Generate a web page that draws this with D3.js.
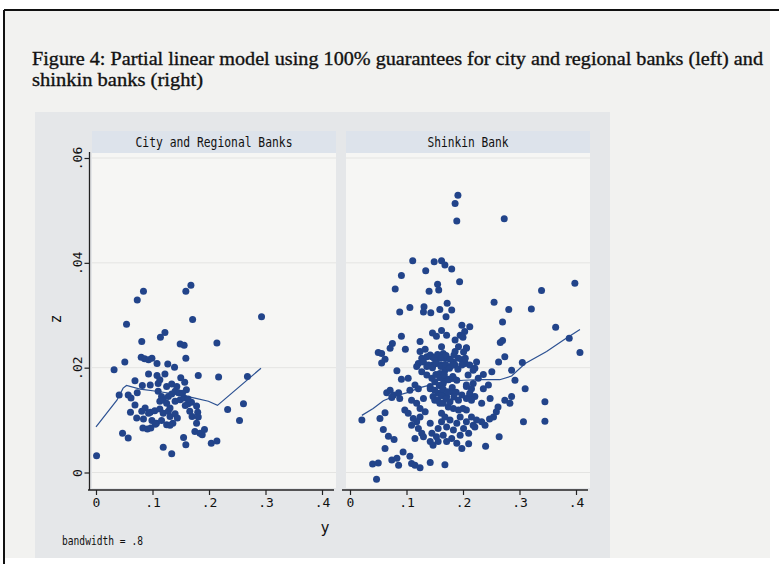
<!DOCTYPE html>
<html>
<head>
<meta charset="utf-8">
<script src="https://cdn.jsdelivr.net/npm/d3@7"></script>
<style>
  body { margin: 0; background: #ffffff; }
  svg { display: block; }
</style>
</head>
<body>
<svg id="chart"></svg>
<script>
// ---- data ----
const titleLines = [
  "Figure 4: Partial linear model using 100% guarantees for city and regional banks (left) and",
  "shinkin banks (right)"
];
const panelTitles = ["City and Regional Banks", "Shinkin Bank"];
const xTicks = [0, 0.1, 0.2, 0.3, 0.4];
const yTicks = [0, 0.02, 0.04, 0.06];

// [y, z] pairs, city and regional banks
const cityPoints = [
  [0.084,0.0346],[0.073,0.0329],[0.168,0.0357],[0.159,0.0346],
  [0.054,0.0283],[0.171,0.0292],[0.293,0.0297],[0.122,0.0267],[0.114,0.0258],
  [0.081,0.0250],[0.149,0.0245],[0.156,0.0243],[0.214,0.0247],
  [0.080,0.0220],[0.086,0.0217],[0.093,0.0215],[0.099,0.0218],[0.159,0.0218],
  [0.051,0.0211],[0.108,0.0208],[0.127,0.0207],[0.139,0.0201],[0.032,0.0196],
  [0.093,0.0188],[0.108,0.0185],[0.122,0.0188],[0.181,0.0185],[0.217,0.0182],[0.268,0.0183],
  [0.069,0.0175],[0.082,0.0166],[0.096,0.0167],[0.110,0.0170],[0.113,0.0177],
  [0.125,0.0164],[0.134,0.0169],[0.143,0.0164],[0.150,0.0181],[0.157,0.0172],[0.160,0.0158],
  [0.041,0.0148],[0.057,0.0148],[0.062,0.0142],[0.073,0.0152],
  [0.110,0.0155],[0.116,0.0145],[0.113,0.0136],[0.119,0.0139],[0.128,0.0145],[0.134,0.0150],
  [0.140,0.0155],[0.146,0.0152],[0.149,0.0139],[0.140,0.0136],[0.156,0.0142],[0.153,0.0151],
  [0.069,0.0129],[0.087,0.0123],[0.096,0.0115],[0.104,0.0118],[0.113,0.0121],[0.119,0.0113],[0.128,0.0117],
  [0.163,0.0131],[0.169,0.0134],[0.178,0.0127],[0.158,0.0128],[0.163,0.0140],
  [0.061,0.0115],[0.072,0.0104],[0.081,0.0117],[0.084,0.0102],[0.093,0.0113],
  [0.099,0.0099],[0.107,0.0094],[0.116,0.0099],
  [0.131,0.0107],[0.140,0.0112],[0.144,0.0104],[0.136,0.0094],[0.125,0.0091],[0.131,0.0090],
  [0.083,0.0085],[0.091,0.0083],[0.097,0.0085],[0.105,0.0092],
  [0.166,0.0117],[0.170,0.0107],[0.178,0.0094],[0.180,0.0115],[0.181,0.0106],
  [0.047,0.0075],[0.057,0.0066],[0.155,0.0067],[0.159,0.0053],[0.119,0.0048],[0.134,0.0036],[0.001,0.0032],
  [0.175,0.0078],[0.184,0.0075],[0.192,0.0082],[0.188,0.0072],[0.204,0.0056],[0.214,0.0060],
  [0.125,0.0132],[0.131,0.0123],
  [0.261,0.0131],[0.233,0.0120],[0.254,0.0099]
];

// [y, z] pairs, shinkin banks
const shinkinPoints = [
  [0.191,0.0529],[0.186,0.0513],[0.189,0.0480],[0.273,0.0484],
  [0.111,0.0404],[0.149,0.0402],[0.162,0.0404],[0.168,0.0396],[0.134,0.0385],[0.180,0.0388],
  [0.091,0.0376],[0.194,0.0364],[0.398,0.0361],[0.339,0.0347],[0.080,0.0350],[0.155,0.0359],
  [0.157,0.0348],[0.140,0.0346],[0.172,0.0323],[0.255,0.0325],
  [0.106,0.0315],[0.088,0.0306],[0.131,0.0316],[0.130,0.0306],[0.143,0.0305],[0.159,0.0311],
  [0.180,0.0310],[0.170,0.0297],[0.281,0.0311],[0.321,0.0312],
  [0.270,0.0287],[0.364,0.0277],[0.198,0.0281],[0.212,0.0278],[0.203,0.0269],[0.195,0.0262],
  [0.091,0.0260],[0.146,0.0266],[0.153,0.0260],[0.162,0.0271],[0.171,0.0262],
  [0.270,0.0252],[0.266,0.0248],[0.388,0.0256],[0.186,0.0253],[0.200,0.0258],[0.206,0.0238],
  [0.124,0.0250],[0.075,0.0246],[0.071,0.0237],[0.098,0.0235],[0.162,0.0240],[0.192,0.0240],
  [0.206,0.0237],[0.186,0.0231],
  [0.407,0.0229],[0.274,0.0221],[0.263,0.0211],[0.305,0.0210],
  [0.050,0.0229],[0.056,0.0227],[0.062,0.0216],[0.056,0.0209],
  [0.124,0.0231],[0.133,0.0235],[0.127,0.0218],[0.136,0.0221],[0.121,0.0208],[0.130,0.0211],
  [0.145,0.0221],[0.152,0.0213],[0.159,0.0218],[0.165,0.0227],[0.147,0.0205],[0.162,0.0205],
  [0.168,0.0218],[0.183,0.0211],[0.198,0.0215],[0.204,0.0208],
  [0.083,0.0194],[0.091,0.0178],[0.103,0.0180],[0.118,0.0202],[0.127,0.0192],[0.136,0.0202],
  [0.065,0.0152],[0.071,0.0157],[0.077,0.0148],[0.086,0.0152],[0.074,0.0143],[0.088,0.0141],
  [0.106,0.0157],[0.115,0.0167],[0.121,0.0160],[0.109,0.0138],[0.118,0.0132],[0.130,0.0141],
  [0.142,0.0160],[0.150,0.0173],[0.156,0.0151],[0.162,0.0164],[0.168,0.0176],[0.150,0.0138],[0.159,0.0132],
  [0.124,0.0122],[0.133,0.0116],[0.097,0.0119],[0.103,0.0113],
  [0.021,0.0100],[0.053,0.0103],[0.062,0.0114],
  [0.112,0.0103],[0.124,0.0106],[0.118,0.0097],[0.109,0.0090],[0.121,0.0084],[0.127,0.0075],
  [0.115,0.0065],[0.130,0.0068],
  [0.142,0.0094],[0.145,0.0075],[0.156,0.0084],[0.162,0.0097],[0.153,0.0068],[0.165,0.0071],
  [0.142,0.0059],[0.147,0.0052],[0.156,0.0059],
  [0.059,0.0082],[0.068,0.0069],[0.078,0.0063],[0.062,0.0046],
  [0.094,0.0039],[0.106,0.0031],[0.074,0.0024],[0.083,0.0027],[0.086,0.0014],
  [0.040,0.0016],[0.050,0.0018],[0.047,-0.0013],
  [0.109,0.0017],[0.115,0.0014],[0.124,0.0009],[0.142,0.0019],[0.168,0.0015],
  [0.221,0.0199],[0.236,0.0187],[0.251,0.0192],[0.286,0.0195],[0.292,0.0176],[0.310,0.0160],
  [0.206,0.0164],[0.218,0.0170],[0.227,0.0180],[0.236,0.0160],[0.245,0.0167],
  [0.212,0.0148],[0.221,0.0145],[0.215,0.0138],[0.248,0.0141],
  [0.274,0.0138],[0.286,0.0145],[0.283,0.0132],[0.233,0.0132],
  [0.262,0.0125],[0.259,0.0116],[0.254,0.0106],[0.247,0.0102],
  [0.345,0.0135],[0.345,0.0098],[0.307,0.0097],
  [0.239,0.0090],[0.233,0.0097],[0.224,0.0100],[0.215,0.0106],[0.206,0.0119],[0.200,0.0122],
  [0.192,0.0119],[0.183,0.0122],
  [0.195,0.0106],[0.206,0.0097],[0.218,0.0090],[0.189,0.0094],[0.177,0.0100],[0.171,0.0087],
  [0.183,0.0081],[0.201,0.0084],[0.195,0.0071],[0.210,0.0075],[0.180,0.0065],[0.171,0.0059],
  [0.189,0.0056],[0.198,0.0046],[0.210,0.0055],[0.221,0.0087],
  [0.264,0.0068],[0.240,0.0050],
  [0.159,0.0189],[0.168,0.0195],[0.177,0.0202],[0.186,0.0205],[0.165,0.0170],[0.174,0.0177],
  [0.183,0.0180],[0.162,0.0151],[0.171,0.0145],[0.180,0.0154],[0.165,0.0132],[0.174,0.0125],
  [0.162,0.0113],[0.168,0.0106],
  [0.142,0.0224],[0.149,0.0218],[0.155,0.0225],[0.162,0.0219],[0.170,0.0223],[0.177,0.0216],
  [0.184,0.0224],[0.192,0.0218],[0.139,0.0205],[0.146,0.0200],[0.153,0.0208],[0.161,0.0202],
  [0.169,0.0206],[0.176,0.0199],[0.183,0.0205],[0.191,0.0197],[0.198,0.0205],
  [0.136,0.0186],[0.145,0.0180],[0.152,0.0187],[0.159,0.0181],[0.167,0.0186],[0.175,0.0178],
  [0.182,0.0183],[0.189,0.0176],[0.142,0.0164],[0.150,0.0157],[0.158,0.0166],[0.165,0.0159],
  [0.173,0.0154],[0.181,0.0162],[0.188,0.0153],[0.147,0.0145],[0.155,0.0138],[0.162,0.0146],
  [0.170,0.0141],[0.177,0.0135],[0.184,0.0144],[0.192,0.0138],[0.198,0.0148],[0.206,0.0141],
  [0.212,0.0151],[0.215,0.0160],[0.206,0.0167],[0.209,0.0186],[0.201,0.0230],[0.204,0.0218],
  [0.212,0.0205],[0.218,0.0195],[0.224,0.0211]
];

// smoothed fits (partial linear model), [y, z]
const cityFit = [
  [0.000,0.0087],[0.037,0.0138],[0.048,0.0161],[0.054,0.0166],[0.078,0.0159],[0.107,0.0155],
  [0.149,0.0148],[0.175,0.0142],[0.199,0.0136],[0.215,0.0128],[0.292,0.0199]
];
const shinkinFit = [
  [0.021,0.0109],[0.041,0.0122],[0.059,0.0137],[0.077,0.0145],[0.100,0.0152],[0.124,0.0162],
  [0.153,0.0170],[0.177,0.0174],[0.201,0.0176],[0.230,0.0177],[0.265,0.0177],[0.286,0.0184],
  [0.310,0.0208],[0.348,0.0231],[0.378,0.0253],[0.407,0.0273]
];

// ---- layout ----
const W = 779, H = 564;
const mono = "'DejaVu Sans Mono', 'Liberation Mono', monospace";
const dotColor = "#22448a";

const svg = d3.select("#chart").attr("width", W).attr("height", H);

// scanned paper with frame
svg.append("rect").attr("width", W).attr("height", H).attr("fill", "#ffffff");
svg.append("rect").attr("x", 4).attr("y", 10).attr("width", 766).attr("height", 548).attr("fill", "#f2f2f0");
svg.append("line").attr("x1", 4).attr("x2", W).attr("y1", 10).attr("y2", 10)
  .attr("stroke", "#111").attr("stroke-width", 2);
svg.append("line").attr("x1", 4).attr("x2", 4).attr("y1", 10).attr("y2", H)
  .attr("stroke", "#111").attr("stroke-width", 2);

// title
svg.selectAll(".title")
  .data(titleLines)
  .enter()
  .append("text")
  .attr("class", "title")
  .attr("x", 32)
  .attr("y", (d, i) => 65 + i * 21)
  .attr("textLength", (d, i) => i === 0 ? 731 : 171)
  .attr("lengthAdjust", "spacingAndGlyphs")
  .style("font-family", "'Liberation Serif', 'DejaVu Serif', serif")
  .style("font-size", "19.5px")
  .style("fill", "#111")
  .style("stroke", "#111")
  .style("stroke-width", "0.35px")
  .text(d => d);

// graph region
svg.append("rect").attr("x", 35).attr("y", 112).attr("width", 575).attr("height", 446).attr("fill", "#e5e7e9");

const y = d3.scaleLinear().domain([0, 0.06]).range([472.5, 158]);
const panels = [
  { title: panelTitles[0], pts: cityPoints, fit: cityFit, x: d3.scaleLinear().domain([0, 0.4]).range([96, 322]), left: 92, right: 336 },
  { title: panelTitles[1], pts: shinkinPoints, fit: shinkinFit, x: d3.scaleLinear().domain([0, 0.4]).range([350, 576]), left: 346, right: 590 }
];

const tickFmt = d => d === 0 ? "0" : d3.format(".1f")(d).replace(/^0/, "");

panels.forEach((p, i) => {
  // header strip
  svg.append("rect").attr("x", p.left).attr("y", 131).attr("width", p.right - p.left).attr("height", 22)
    .attr("fill", "#dde3eb");
  svg.append("text")
    .attr("x", (p.left + p.right) / 2)
    .attr("y", 147)
    .attr("text-anchor", "middle")
    .attr("textLength", i === 0 ? 157 : 81)
    .attr("lengthAdjust", "spacingAndGlyphs")
    .style("font-family", mono)
    .style("font-size", "14.5px")
    .style("fill", "#111")
    .text(p.title);

  // plot region
  svg.append("rect").attr("x", p.left).attr("y", 153).attr("width", p.right - p.left).attr("height", 335)
    .attr("fill", "#f6f6f4");

  // grid lines
  svg.append("g")
    .selectAll("line")
    .data(yTicks)
    .enter()
    .append("line")
    .attr("x1", p.left).attr("x2", p.right)
    .attr("y1", d => y(d)).attr("y2", d => y(d))
    .attr("stroke", "#e4e4e2").attr("stroke-width", 1);

  // x axis
  const gx = svg.append("g")
    .attr("transform", "translate(0,490)")
    .call(d3.axisBottom(p.x).tickValues(xTicks).tickFormat(tickFmt).tickSize(5).tickSizeOuter(0));
  gx.select(".domain").attr("d", `M${p.left - 4},0H${p.right - 2}`).attr("stroke", "#222").attr("stroke-width", 1.3);
  gx.selectAll(".tick line").attr("stroke", "#222").attr("stroke-width", 1.2);
  gx.selectAll("text").attr("y", 8).style("font-family", mono).style("font-size", "13px").style("fill", "#111");

  // fitted line
  svg.append("path")
    .datum(p.fit)
    .attr("d", d3.line().x(d => p.x(d[0])).y(d => y(d[1])))
    .attr("fill", "none")
    .attr("stroke", "#2c5192")
    .attr("stroke-width", 1.2);

  // points
  svg.append("g")
    .selectAll("circle")
    .data(p.pts)
    .enter()
    .append("circle")
    .attr("cx", d => p.x(d[0]))
    .attr("cy", d => y(d[1]))
    .attr("r", 3.5)
    .attr("fill", dotColor);
});

// y axis (left panel only)
const gy = svg.append("g")
  .attr("transform", "translate(89.5,0)")
  .call(d3.axisLeft(y).tickValues(yTicks).tickFormat(d => d === 0 ? "0" : d3.format(".2f")(d).replace(/^0/, "")).tickSize(5).tickSizeOuter(0));
gy.select(".domain").attr("d", "M0,152V490").attr("stroke", "#222").attr("stroke-width", 1.3);
gy.selectAll(".tick line").attr("stroke", "#222").attr("stroke-width", 1.2);
gy.selectAll("text")
  .attr("transform", "rotate(-90)")
  .attr("x", 0)
  .attr("y", -8)
  .attr("dy", 0)
  .style("text-anchor", "middle")
  .style("font-family", mono)
  .style("font-size", "13px")
  .style("fill", "#111");

// axis titles and note
svg.append("text")
  .attr("x", 325).attr("y", 533)
  .attr("text-anchor", "middle")
  .style("font-family", mono).style("font-size", "15px").style("fill", "#111")
  .text("y");
svg.append("text")
  .attr("transform", "translate(61,319) rotate(-90)")
  .attr("text-anchor", "middle")
  .style("font-family", mono).style("font-size", "15px").style("fill", "#111")
  .text("z");
svg.append("text")
  .attr("x", 62).attr("y", 545)
  .attr("textLength", 81)
  .attr("lengthAdjust", "spacingAndGlyphs")
  .style("font-family", mono).style("font-size", "12.5px").style("fill", "#111")
  .text("bandwidth = .8");
</script>
</body>
</html>
